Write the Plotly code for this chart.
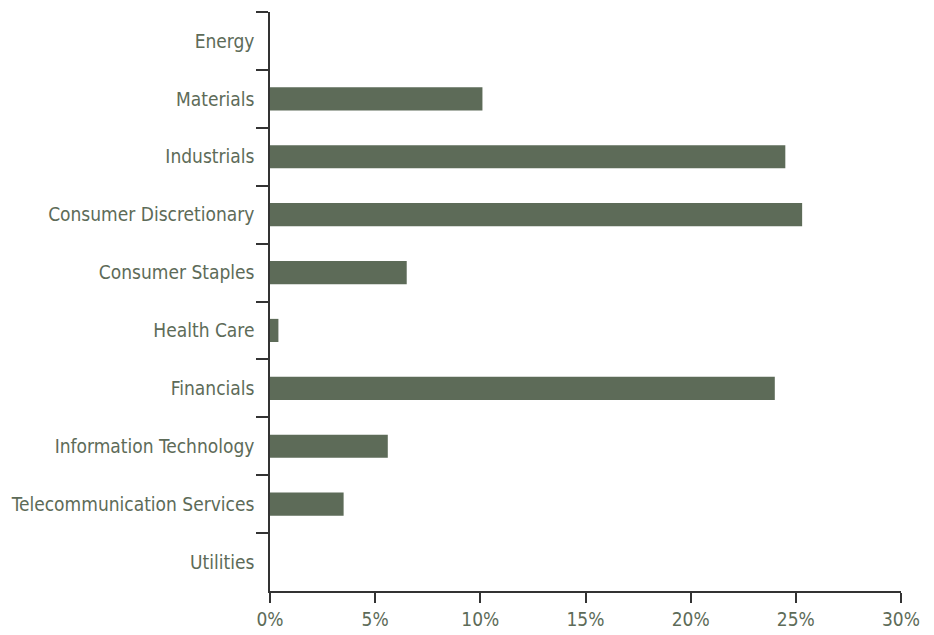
import plotly.graph_objects as go

categories = ["Energy", "Materials", "Industrials", "Consumer Discretionary",
              "Consumer Staples", "Health Care", "Financials",
              "Information Technology", "Telecommunication Services", "Utilities"]
values = [0.0, 10.1, 24.5, 25.3, 6.5, 0.4, 24.0, 5.6, 3.5, 0.0]
x_ticks = [0, 5, 10, 15, 20, 25, 30]
x_tick_labels = [f"{t}%" for t in x_ticks]

bar_color = "#5d6b58"
text_color = "#5d6b58"
axis_color = "#333333"
font_family = "DejaVu Sans Condensed, Open Sans, sans-serif"

fig = go.Figure(go.Bar(
    x=values, y=categories, orientation="h",
    marker=dict(color=bar_color, line=dict(width=0)),
    hoverinfo="x+y",
))

fig.update_layout(
    width=934, height=635,
    margin=dict(l=262, r=41, t=4, b=52),
    paper_bgcolor="white", plot_bgcolor="white",
    bargap=0.6,
    showlegend=False,
    font=dict(family=font_family, size=19, color=text_color),
)
fig.update_xaxes(
    range=[0, 30], tickvals=x_ticks, ticktext=x_tick_labels,
    showgrid=False, zeroline=False, automargin=False,
    showline=True, linecolor=axis_color, linewidth=1.5,
    ticks="outside", ticklen=10, tickcolor=axis_color, tickwidth=1.5,
    tickfont=dict(family=font_family, size=19, color=text_color),
)
fig.update_yaxes(
    type="category", categoryorder="array", categoryarray=categories,
    autorange="reversed",
    tickson="boundaries",
    showgrid=False, zeroline=False, automargin=False,
    showline=True, linecolor=axis_color, linewidth=1.5,
    ticks="outside", ticklen=12, tickcolor=axis_color, tickwidth=1.5,
    ticklabelstandoff=10,
    tickfont=dict(family=font_family, size=19, color=text_color),
)

fig.write_html("out.html")
